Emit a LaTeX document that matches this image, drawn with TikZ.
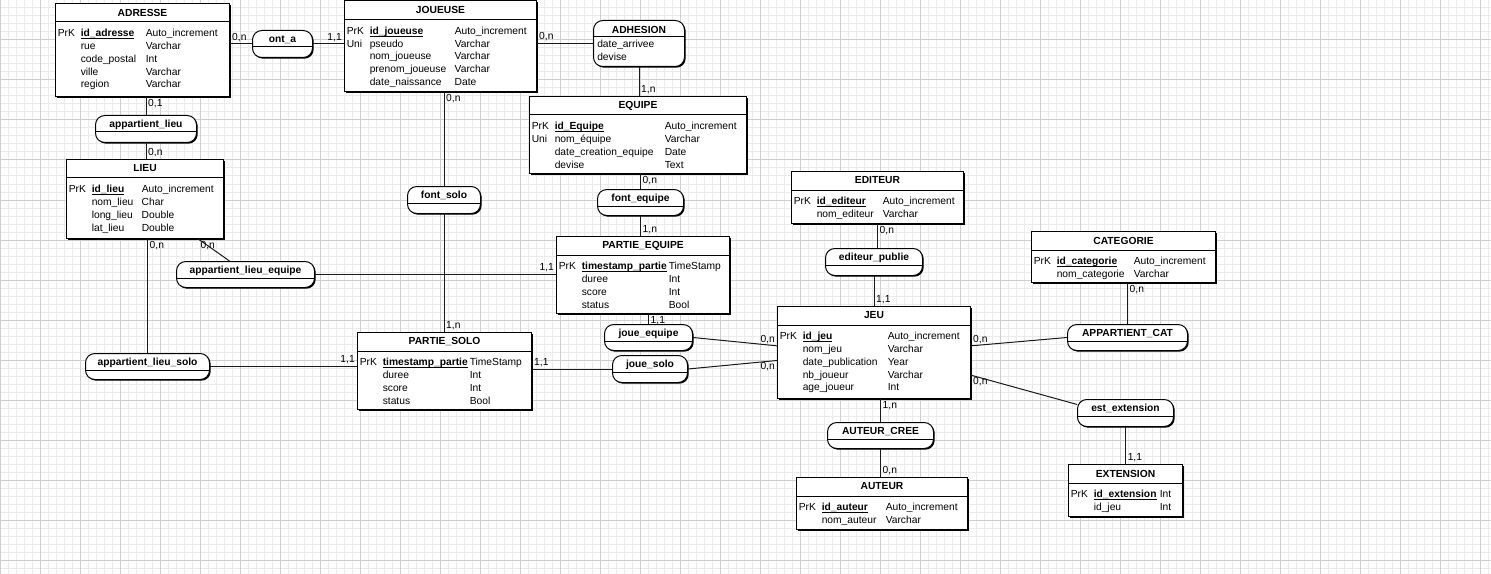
\documentclass[tikz,border=0pt]{standalone}
\usepackage{fontspec}
\setmainfont{Liberation Sans}
\usetikzlibrary{calc, shadows}
\definecolor{Grille}{HTML}{EBEBEB}
\definecolor{GrilleForte}{HTML}{CFCFCF}
\definecolor{Trait}{HTML}{1A1A1A}
\newlength\pxu
\setlength\pxu{0.75pt}
\setlength\tabcolsep{0pt}
\newcommand\petit{\fontsize{7.7}{9.6}\selectfont}
\newcommand\cle[1]{\underline{\smash{\textbf{#1}}}}
% entite: nom, x, y, largeur, hauteur, titre, colonne attributs, lignes
\newcommand\entite[8]{%
  \node[ent, minimum width=#4*\pxu, minimum height=#5*\pxu] (#1) at (#2,#3) {};
  \node[titre] (#1-titre) at ($(#1.north)+(0,9.5)$) {#6};
  \draw[sep] ($(#1.north west)+(0,19)$) -- ($(#1.north east)+(0,19)$);
  \node[corps] (#1-corps) at ($(#1.north west)+(2.5,24.5)$)
    {\begin{tabular}{@{}p{23\pxu}p{#7\pxu}l@{}}#8\end{tabular}};
}
% association: nom, x, y, largeur, hauteur, titre
\newcommand\asso[6]{%
  \node[rel, minimum width=#4*\pxu, minimum height=#5*\pxu] (#1) at (#2,#3) {};
  \node[titre] (#1-titre) at ($(#1.north)+(0,9.5)$) {#6};
  \draw[sep] ($(#1.north west)+(0,17)$) -- ($(#1.north east)+(0,17)$);
}

\begin{document}
\begin{tikzpicture}[
  x=0.75pt, y=-0.75pt,
  font=\petit,
  ent/.style={draw=black, fill=white, line width=0.75pt, inner sep=0pt, anchor=north west,
    general shadow={fill=black, shadow xshift=0.9pt, shadow yshift=-0.9pt}},
  rel/.style={ent, rounded corners=7pt},
  titre/.style={font=\petit\bfseries, inner sep=0pt},
  corps/.style={font=\petit, inner sep=0pt, anchor=north west},
  sep/.style={line width=0.75pt},
  lien/.style={draw=Trait, line width=0.75pt},
  card/.style={font=\petit, inner sep=1.3pt}
]
\useasboundingbox (0,0) rectangle (1491,574);

% grille
\foreach \gx in {0,8,...,1488} \draw[Grille, line width=0.75pt] (\gx,0) -- (\gx,574);
\foreach \gy in {0,8,...,568} \draw[Grille, line width=0.75pt] (0,\gy) -- (1491,\gy);
\foreach \gx in {0,40,...,1480} \draw[GrilleForte, line width=0.75pt] (\gx,0) -- (\gx,574);
\foreach \gy in {0,40,...,560} \draw[GrilleForte, line width=0.75pt] (0,\gy) -- (1491,\gy);

% entites
\entite{adresse}{55}{3}{174}{93}{ADRESSE}{65}{PrK & \cle{id\_adresse} & Auto\_increment\\ & rue & Varchar\\ & code\_postal & Int\\ & ville & Varchar\\ & region & Varchar}
\entite{joueuse}{344}{0.5}{192}{91}{JOUEUSE}{85}{PrK & \cle{id\_joueuse} & Auto\_increment\\ Uni & pseudo & Varchar\\ & nom\_joueuse & Varchar\\ & prenom\_joueuse & Varchar\\ & date\_naissance & Date}
\entite{equipe}{529}{96}{217}{77}{EQUIPE}{110}{PrK & \cle{id\_Equipe} & Auto\_increment\\ Uni & nom\_équipe & Varchar\\ & date\_creation\_equipe & Date\\ & devise & Text}
\entite{lieu}{66}{159}{157}{79}{LIEU}{50}{PrK & \cle{id\_lieu} & Auto\_increment\\ & nom\_lieu & Char\\ & long\_lieu & Double\\ & lat\_lieu & Double}
\entite{partieequipe}{556}{236}{173}{77}{PARTIE\_EQUIPE}{87}{PrK & \cle{timestamp\_partie} & TimeStamp\\ & duree & Int\\ & score & Int\\ & status & Bool}
\entite{partiesolo}{357}{332}{174}{77}{PARTIE\_SOLO}{87}{PrK & \cle{timestamp\_partie} & TimeStamp\\ & duree & Int\\ & score & Int\\ & status & Bool}
\entite{jeu}{777}{306}{193}{92}{JEU}{85}{PrK & \cle{id\_jeu} & Auto\_increment\\ & nom\_jeu & Varchar\\ & date\_publication & Year\\ & nb\_joueur & Varchar\\ & age\_joueur & Int}
\entite{editeur}{791}{171}{172}{52}{EDITEUR}{66}{PrK & \cle{id\_editeur} & Auto\_increment\\ & nom\_editeur & Varchar}
\entite{categorie}{1031}{231}{184}{51}{CATEGORIE}{77}{PrK & \cle{id\_categorie} & Auto\_increment\\ & nom\_categorie & Varchar}
\entite{auteur}{796}{477}{171}{52}{AUTEUR}{64}{PrK & \cle{id\_auteur} & Auto\_increment\\ & nom\_auteur & Varchar}
\entite{extension}{1068}{464}{114}{52}{EXTENSION}{66}{PrK & \cle{id\_extension} & Int\\ & id\_jeu & Int}

% associations
\asso{onta}{252}{30}{60}{27}{ont\_a}
\asso{adhesion}{593}{20}{91}{46}{ADHESION}
\node[corps] (adhesion-corps) at ($(adhesion.north west)+(4,18.5)$)
  {\begin{tabular}{@{}l@{}}date\_arrivee\\ devise\end{tabular}};
\asso{fontequipe}{597}{189}{86}{26}{font\_equipe}
\asso{fontsolo}{407}{186}{73}{27}{font\_solo}
\asso{joueequipe}{604}{324}{88}{26}{joue\_equipe}
\asso{jouesolo}{612}{355}{75}{27}{joue\_solo}
\asso{editeurpublie}{825}{248}{97}{27}{editeur\_publie}
\asso{appcat}{1067}{324}{120}{26}{APPARTIENT\_CAT}
\asso{estext}{1077}{399}{96}{27}{est\_extension}
\asso{auteurcree}{827}{422}{106}{26}{AUTEUR\_CREE}
\asso{applieu}{95}{115}{101}{27}{appartient\_lieu}
\asso{applieueq}{176}{261}{138}{26}{appartient\_lieu\_equipe}
\asso{applieusolo}{85}{353}{124}{26}{appartient\_lieu\_solo}

% liens
\draw[lien] (adresse.east |- onta.west) node[card, above right] {0,n} -- (onta.west);
\draw[lien] (onta.east) -- (joueuse.west |- onta.east) node[card, above left] {1,1};
\draw[lien] (joueuse.east |- adhesion.west) node[card, above right] {0,n} -- (adhesion.west);
\draw[lien] (adhesion.south) -- (adhesion.south |- equipe.north) node[card, above right] {1,n};
\draw[lien] (fontequipe.north |- equipe.south) node[card, below right] {0,n} -- (fontequipe.north);
\draw[lien] (fontequipe.south) -- (fontequipe.south |- partieequipe.north) node[card, above right] {1,n};
\draw[lien] (fontsolo.north |- joueuse.south) node[card, below right] {0,n} -- (fontsolo.north);
\draw[lien] (fontsolo.south) -- (fontsolo.south |- partiesolo.north) node[card, above right] {1,n};
\draw[lien] (joueequipe.north |- partieequipe.south) node[card, below right] {1,1} -- (joueequipe.north);
\draw[lien] (joueequipe.east) -- ([yshift=5pt]jeu.west) node[card, above left] {0,n};
\draw[lien] (partiesolo.east |- jouesolo.west) node[card, above right] {1,1} -- (jouesolo.west);
\draw[lien] (jouesolo.east) -- ([yshift=-6pt]jeu.west) node[card, below left] {0,n};
\draw[lien] (editeur.south) node[card, below right] {0,n} -- (editeur.south |- editeurpublie.north);
\draw[lien] (editeurpublie.south) -- (jeu.north) node[card, above right] {1,1};
\draw[lien] (appcat.north |- categorie.south) node[card, below right] {0,n} -- (appcat.north);
\draw[lien] ([yshift=5pt]jeu.east) node[card, above right] {0,n} -- (appcat.west);
\draw[lien] ([yshift=-17pt]jeu.east) node[card, below right] {0,n} -- (estext.170);
\draw[lien] (estext.south) -- (estext.south |- extension.north) node[card, above right] {1,1};
\draw[lien] (auteurcree.north |- jeu.south) node[card, below right] {1,n} -- (auteurcree.north);
\draw[lien] (auteurcree.south) -- (auteurcree.south |- auteur.north) node[card, above right] {0,n};
\draw[lien] (applieu.north |- adresse.south) node[card, below right] {0,1} -- (applieu.north);
\draw[lien] (applieu.south) -- (applieu.south |- lieu.north) node[card, above right] {0,n};
\draw[lien] (applieusolo.north |- lieu.south) node[card, below right] {0,n} -- (applieusolo.north);
\draw[lien] ([xshift=40pt]lieu.south) node[card, below right] {0,n} -- ([xshift=-12pt]applieueq.north);
\draw[lien] (applieueq.east) -- (partieequipe.west |- applieueq.east) node[card, above left] {1,1};
\draw[lien] (applieusolo.east) -- (partiesolo.west |- applieusolo.east) node[card, above left] {1,1};
\end{tikzpicture}
\end{document}
